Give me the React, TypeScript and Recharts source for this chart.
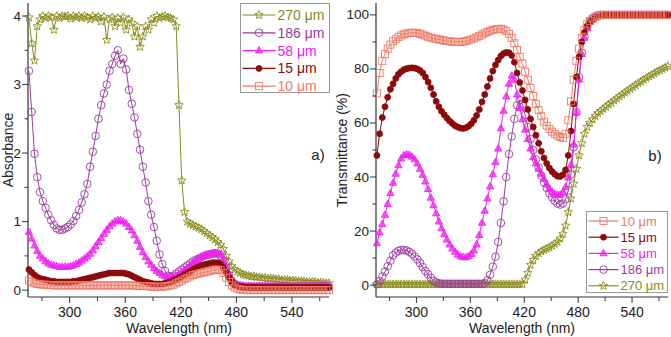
import React from 'react';
import { LineChart, Line, XAxis, YAxis } from 'recharts';

// wavelength grid (nm), shared by both panels: 256 ... 580, 3 nm apart
const wavelength = [
  256, 259, 262, 265, 268, 271, 274, 277, 280, 283,
  286, 289, 292, 295, 298, 301, 304, 307, 310, 313,
  316, 319, 322, 325, 328, 331, 334, 337, 340, 343,
  346, 349, 352, 355, 358, 361, 364, 367, 370, 373,
  376, 379, 382, 385, 388, 391, 394, 397, 400, 403,
  406, 409, 412, 415, 418, 421, 424, 427, 430, 433,
  436, 439, 442, 445, 448, 451, 454, 457, 460, 463,
  466, 469, 472, 475, 478, 481, 484, 487, 490, 493,
  496, 499, 502, 505, 508, 511, 514, 517, 520, 523,
  526, 529, 532, 535, 538, 541, 544, 547, 550, 553,
  556, 559, 562, 565, 568, 571, 574, 577, 580,
];

// panel a) absorbance
const absorb270 = [
  3.98, 3.6, 3.35, 3.85, 3.95, 4.0, 3.97, 4.0, 3.98, 3.8,
  4.0, 3.97, 4.0, 3.99, 4.0, 3.96, 4.0, 3.98, 4.0, 3.97,
  4.0, 3.98, 3.95, 4.0, 3.97, 3.99, 3.92, 3.99, 3.65, 3.95,
  3.98, 3.85, 3.97, 3.9, 3.98, 3.8, 3.95, 3.9, 3.7, 3.85,
  3.55, 3.7, 3.85, 3.8, 3.95, 3.9, 4.0, 3.97, 3.99, 4.0,
  3.98, 3.97, 3.95, 3.85, 2.7, 1.6, 1.14, 1.0, 0.97, 0.95,
  0.93, 0.91, 0.89, 0.86, 0.83, 0.8, 0.77, 0.74, 0.7, 0.66,
  0.6, 0.5, 0.42, 0.35, 0.3, 0.27, 0.25, 0.23, 0.22, 0.21,
  0.2, 0.2, 0.19, 0.19, 0.18, 0.18, 0.17, 0.17, 0.17, 0.16,
  0.16, 0.15, 0.15, 0.15, 0.14, 0.14, 0.14, 0.13, 0.13, 0.13,
  0.12, 0.12, 0.12, 0.12, 0.11, 0.11, 0.11, 0.1, 0.1,
];
const absorb186 = [
  3.2, 2.6, 1.99, 1.65, 1.43, 1.3, 1.2, 1.1, 1.02, 0.95,
  0.9, 0.88, 0.88, 0.9, 0.92, 0.96, 1.01, 1.08, 1.17, 1.28,
  1.4, 1.55, 1.8, 2.02, 2.25, 2.5, 2.7, 2.87, 3.0, 3.2,
  3.3, 3.42, 3.5, 3.3, 3.38, 3.22, 2.92, 2.72, 2.52, 2.28,
  2.05, 1.8, 1.57, 1.3, 1.1, 0.92, 0.72, 0.52, 0.38, 0.28,
  0.21, 0.19, 0.21, 0.24, 0.27, 0.3, 0.33, 0.36, 0.39, 0.42,
  0.44, 0.46, 0.48, 0.5, 0.51, 0.52, 0.53, 0.54, 0.53, 0.5,
  0.43, 0.33, 0.22, 0.14, 0.09, 0.07, 0.06, 0.05, 0.05, 0.05,
  0.05, 0.05, 0.05, 0.05, 0.05, 0.05, 0.05, 0.05, 0.05, 0.05,
  0.05, 0.05, 0.05, 0.05, 0.05, 0.05, 0.05, 0.05, 0.05, 0.05,
  0.05, 0.05, 0.05, 0.05, 0.05, 0.05, 0.05, 0.05, 0.05,
];
const absorb58 = [
  0.85, 0.75, 0.65, 0.57, 0.5, 0.46, 0.42, 0.39, 0.37, 0.36,
  0.35, 0.34, 0.34, 0.34, 0.34, 0.35, 0.36, 0.38, 0.4, 0.43,
  0.46, 0.49, 0.53, 0.58, 0.64, 0.7, 0.76, 0.82, 0.88, 0.93,
  0.97, 1.0, 1.02, 1.02, 1.0, 0.97, 0.92, 0.87, 0.8, 0.72,
  0.63, 0.55, 0.48, 0.42, 0.37, 0.32, 0.28, 0.25, 0.22, 0.2,
  0.18, 0.18, 0.19, 0.21, 0.23, 0.26, 0.29, 0.32, 0.36, 0.4,
  0.43, 0.46, 0.48, 0.5, 0.52, 0.53, 0.54, 0.54, 0.54, 0.52,
  0.44, 0.34, 0.24, 0.16, 0.1, 0.08, 0.07, 0.065, 0.06, 0.06,
  0.06, 0.06, 0.06, 0.06, 0.06, 0.06, 0.06, 0.06, 0.06, 0.06,
  0.06, 0.06, 0.06, 0.06, 0.06, 0.06, 0.06, 0.06, 0.06, 0.06,
  0.06, 0.06, 0.06, 0.06, 0.06, 0.06, 0.06, 0.06, 0.06,
];
const absorb15 = [
  0.3, 0.26, 0.22, 0.19, 0.17, 0.16, 0.15, 0.14, 0.13, 0.13,
  0.12, 0.12, 0.12, 0.12, 0.12, 0.12, 0.13, 0.13, 0.14, 0.15,
  0.16, 0.17, 0.18, 0.19, 0.2, 0.21, 0.22, 0.23, 0.24, 0.25,
  0.25, 0.25, 0.25, 0.25, 0.25, 0.24, 0.23, 0.21, 0.19, 0.17,
  0.15, 0.13, 0.12, 0.11, 0.1, 0.09, 0.09, 0.09, 0.09, 0.1,
  0.11, 0.12, 0.14, 0.16, 0.18, 0.2, 0.23, 0.25, 0.27, 0.3,
  0.32, 0.34, 0.36, 0.37, 0.38, 0.39, 0.4, 0.4, 0.4, 0.38,
  0.33, 0.26, 0.19, 0.12, 0.08, 0.06, 0.05, 0.05, 0.04, 0.04,
  0.04, 0.04, 0.04, 0.04, 0.04, 0.04, 0.04, 0.04, 0.04, 0.04,
  0.04, 0.04, 0.04, 0.04, 0.04, 0.04, 0.04, 0.04, 0.04, 0.04,
  0.04, 0.04, 0.04, 0.04, 0.04, 0.04, 0.04, 0.04, 0.04,
];
const absorb10 = [
  0.14, 0.12, 0.1, 0.09, 0.085, 0.08, 0.08, 0.075, 0.075, 0.07,
  0.07, 0.07, 0.07, 0.07, 0.07, 0.07, 0.07, 0.07, 0.07, 0.07,
  0.07, 0.07, 0.07, 0.07, 0.07, 0.07, 0.07, 0.07, 0.07, 0.07,
  0.07, 0.07, 0.07, 0.07, 0.07, 0.07, 0.07, 0.07, 0.065, 0.065,
  0.06, 0.06, 0.06, 0.055, 0.05, 0.05, 0.05, 0.05, 0.05, 0.055,
  0.06, 0.07, 0.08, 0.1, 0.12, 0.14, 0.16, 0.18, 0.2, 0.22,
  0.23, 0.24, 0.25, 0.26, 0.27, 0.28, 0.29, 0.3, 0.3, 0.29,
  0.25, 0.18, 0.12, 0.07, 0.04, 0.02, 0.01, 0.005, 0, 0,
  0, 0, 0, 0, 0, 0, 0, 0, 0, 0,
  0, 0, 0, 0, 0, 0, 0, 0, 0, 0,
  0, 0, 0, 0, 0, 0, 0, 0, 0,
];

// panel b) transmittance (%)
const trans10 = [
  71, 78.5, 83, 85.5, 87.5, 89, 90.2, 91, 91.8, 92.4,
  92.8, 93.1, 93.3, 93.4, 93.4, 93.3, 93, 92.7, 92.3, 91.9,
  91.6, 91.3, 91.1, 90.9, 90.7, 90.5, 90.3, 90.2, 90.1, 90,
  90, 90, 90.1, 90.3, 90.6, 90.9, 91.3, 91.7, 92.2, 92.7,
  93.2, 93.7, 94.1, 94.4, 94.7, 94.8, 94.9, 94.6, 94, 93,
  91.5, 89.5, 87, 84.5, 82, 79, 76, 73, 70, 67,
  64.8, 62.5, 60.5, 59, 57.8, 56.8, 56, 55.3, 54.8, 54.5,
  56, 61, 68, 76, 83, 87.5, 91.5, 94.5, 96.5, 97.8,
  98.6, 99.3, 99.7, 100, 100, 100, 100, 100, 100, 100,
  100, 100, 100, 100, 100, 100, 100, 100, 100, 100,
  100, 100, 100, 100, 100, 100, 100, 100, 100,
];
const trans15 = [
  48, 56, 62, 66, 69.5, 72.5, 74.5, 76.5, 78, 79,
  79.7, 80.1, 80.3, 80.4, 80.3, 80, 79.4, 78.5, 77, 75.2,
  73, 70.5, 68, 66, 64.3, 63, 61.8, 60.7, 59.8, 59,
  58.5, 58.1, 58, 58.2, 58.8, 59.7, 61, 62.8, 65, 67.8,
  70.5, 73.5, 76.5, 79.2, 81.5, 83.3, 84.8, 85.7, 86.1, 86,
  85, 82.5, 78.5, 75, 72, 68.5, 65, 61.5, 58.5, 55.5,
  52.5, 49.5, 47, 45, 43.3, 42, 41, 40.3, 40.2, 40.8,
  42.6, 48, 57, 67, 77, 84.5, 90, 93.5, 95.8, 97.3,
  98.3, 99, 99.5, 99.8, 100, 100, 100, 100, 100, 100,
  100, 100, 100, 100, 100, 100, 100, 100, 100, 100,
  100, 100, 100, 100, 100, 100, 100, 100, 100,
];
const trans58 = [
  15.5, 19.5, 22.5, 26, 30, 34, 37.8, 41.2, 44.3, 46.8,
  48, 48.4, 48.2, 47.5, 46.5, 45, 43, 40.8, 38.3, 35.5,
  32.3, 29.5, 26.5, 23.5, 21, 18.8, 16.8, 15, 13.5, 12.3,
  11.3, 10.6, 10.3, 10.3, 10.7, 11.5, 12.8, 15, 18.5, 23,
  27.5, 32, 36.5, 41, 45.5, 50.5, 58, 64.5, 69.8, 74.5,
  77.5, 76, 70.5, 65.5, 61.3, 57.5, 54, 50.5, 47.3, 45,
  43, 41.2, 39.2, 37.2, 35.6, 34.5, 33.8, 33.4, 33.4, 34.2,
  36.3, 39.8, 44.5, 52, 64, 76, 85.5, 91.5, 95, 97.3,
  98.6, 99.4, 99.8, 100, 100, 100, 100, 100, 100, 100,
  100, 100, 100, 100, 100, 100, 100, 100, 100, 100,
  100, 100, 100, 100, 100, 100, 100, 100, 100,
];
const trans186 = [
  0.3, 1.5, 3.2, 5, 7, 9, 11, 12, 12.7, 13,
  13, 12.8, 12.3, 11.6, 10.6, 9.5, 8.2, 6.7, 5.2, 4,
  2.7, 1.6, 1, 0.7, 0.5, 0.5, 0.5, 0.5, 0.5, 0.5,
  0.5, 0.5, 0.5, 0.5, 0.5, 0.5, 0.5, 0.5, 0.5, 0.5,
  0.7, 1.8, 3.8, 6.8, 10.5, 16, 23, 31, 40, 48.5,
  55, 61.5, 66.5, 68.5, 67, 63, 58.5, 54, 50, 46.5,
  43.5, 40.5, 38, 36, 34, 32.5, 31.2, 30.2, 29.8, 30.2,
  31.8, 35, 41, 51, 64, 77, 86, 92, 95.5, 97.5,
  98.6, 99.4, 99.8, 100, 100, 100, 100, 100, 100, 100,
  100, 100, 100, 100, 100, 100, 100, 100, 100, 100,
  100, 100, 100, 100, 100, 100, 100, 100, 100,
];
const trans270 = [
  0.3, 0.3, 0.3, 0.3, 0.3, 0.3, 0.3, 0.3, 0.3, 0.3,
  0.3, 0.3, 0.3, 0.3, 0.3, 0.3, 0.3, 0.3, 0.3, 0.3,
  0.3, 0.3, 0.3, 0.3, 0.3, 0.3, 0.3, 0.3, 0.3, 0.3,
  0.3, 0.3, 0.3, 0.3, 0.3, 0.3, 0.3, 0.3, 0.3, 0.3,
  0.3, 0.3, 0.3, 0.3, 0.3, 0.3, 0.3, 0.3, 0.3, 0.3,
  0.3, 0.3, 0.3, 0.3, 0.4, 2, 4.5, 7.5, 9.3, 10.8,
  11.8, 12.5, 13, 13.5, 14, 14.6, 15.3, 16, 17.2, 19,
  22, 27, 32, 37.5, 43, 48, 52.5, 56, 58.5, 60,
  61.3, 62.6, 63.6, 64.4, 65.2, 66, 66.8, 67.5, 68.3, 69,
  69.8, 70.5, 71.2, 71.9, 72.6, 73.3, 74, 74.7, 75.3, 76,
  76.6, 77.2, 77.8, 78.4, 79, 79.5, 80, 80.5, 81,
];

const xTicks = [270, 300, 330, 360, 390, 420, 450, 480, 510, 540, 570];
const absTicks = [0, 0.5, 1, 1.5, 2, 2.5, 3, 3.5, 4];
const transTicks = [0, 10, 20, 30, 40, 50, 60, 70, 80, 90, 100];

const FONT = 'Liberation Sans, Arial, Helvetica, sans-serif';
const AXIS = '#333';
const TXT = '#222';

const series = [
  { key: 's270', label: '270 \u03bcm', color: '#8a8a1a', shape: 'star' },
  { key: 's186', label: '186 \u03bcm', color: '#9b3ba0', shape: 'circle' },
  { key: 's58', label: '58 \u03bcm', color: '#f020f0', shape: 'triangle' },
  { key: 's15', label: '15 \u03bcm', color: '#8b0a0a', shape: 'ball' },
  { key: 's10', label: '10 \u03bcm', color: '#f07a66', shape: 'square' },
];

const absData = wavelength.map((w, i) => ({
  w, s270: absorb270[i], s186: absorb186[i], s58: absorb58[i], s15: absorb15[i], s10: absorb10[i],
}));
const transData = wavelength.map((w, i) => ({
  w, s270: trans270[i], s186: trans186[i], s58: trans58[i], s15: trans15[i], s10: trans10[i],
}));

function starPath(cx: number, cy: number, r: number) {
  const pts: string[] = [];
  for (let k = 0; k < 10; k++) {
    const rr = k % 2 === 0 ? r : r * 0.45;
    const a = -Math.PI / 2 + (k * Math.PI) / 5;
    pts.push(`${cx + rr * Math.cos(a)},${cy + rr * Math.sin(a)}`);
  }
  return 'M' + pts.join('L') + 'Z';
}

const Marker = ({ shape, color, x, y }: { shape: string; color: string; x: number; y: number }) => {
  switch (shape) {
    case 'square':
      return <rect x={x - 3.5} y={y - 3.5} width={7} height={7} fill="none" stroke={color} strokeWidth={0.9} />;
    case 'ball':
      return <circle cx={x} cy={y} r={3} fill={color} stroke={color} strokeWidth={0.8} />;
    case 'triangle':
      return (
        <path
          d={`M${x},${y - 4}L${x + 3.6},${y + 2.4}L${x - 3.6},${y + 2.4}Z`}
          fill={color}
          fillOpacity={0.7}
          stroke={color}
          strokeWidth={0.9}
        />
      );
    case 'circle':
      return <circle cx={x} cy={y} r={3.8} fill="none" stroke={color} strokeWidth={0.9} />;
    default:
      return <path d={starPath(x, y, 4.4)} fill="none" stroke={color} strokeWidth={0.9} />;
  }
};

const makeDot = (shape: string, color: string) => (p: any) => {
  const { cx, cy, index } = p;
  if (cx == null || cy == null || Number.isNaN(cy)) return <g key={index} />;
  return (
    <g key={index}>
      <Marker shape={shape} color={color} x={cx} y={cy} />
    </g>
  );
};

const XTick = (p: any) => {
  const { x, y, payload } = p;
  const v = payload.value;
  const major = v % 60 === 0;
  return (
    <g>
      <line x1={x} y1={y} x2={x} y2={y + (major ? 6 : 4)} stroke={AXIS} strokeWidth={1} />
      {major && (
        <text x={x} y={y + 15} textAnchor="middle" dominantBaseline="central" fontSize={14} fontFamily={FONT} fill={TXT}>
          {v}
        </text>
      )}
    </g>
  );
};

const makeYTick = (isMajor: (v: number) => boolean) => (p: any) => {
  const { x, y, payload } = p;
  const v = payload.value;
  const major = isMajor(v);
  return (
    <g>
      <line x1={x} y1={y} x2={x - (major ? 6 : 3.5)} y2={y} stroke={AXIS} strokeWidth={1} />
      {major && (
        <text x={x - 7} y={y} textAnchor="end" dominantBaseline="central" fontSize={13.5} fontFamily={FONT} fill={TXT}>
          {v}
        </text>
      )}
    </g>
  );
};

const axisLine = { stroke: AXIS, strokeWidth: 1.2 };

const Panel = ({
  data, width, yWidth, marginRight, yDomain, yTicks, yMajor, order,
}: {
  data: any[]; width: number; yWidth: number; marginRight: number;
  yDomain: [number, number]; yTicks: number[]; yMajor: (v: number) => boolean; order: string[];
}) => (
  <LineChart width={width} height={337} data={data} margin={{ top: 3, right: marginRight, bottom: 0, left: 0 }}>
    <XAxis
      dataKey="w" type="number" domain={[255, 580]} ticks={xTicks} interval={0}
      height={40} tickSize={0} tickMargin={0} tickLine={false} tick={XTick} axisLine={axisLine}
    />
    <XAxis xAxisId="top" orientation="top" type="number" domain={[255, 580]} height={0} tick={false} tickLine={false} axisLine={axisLine} />
    <YAxis
      type="number" domain={yDomain} ticks={yTicks} interval={0} width={yWidth}
      tickSize={0} tickMargin={0} tickLine={false} tick={makeYTick(yMajor)} axisLine={axisLine}
    />
    <YAxis yAxisId="right" orientation="right" type="number" domain={[0, 1]} width={0} tick={false} tickLine={false} axisLine={axisLine} />
    {order.map((k) => {
      const s = series.find((q) => q.key === k)!;
      return (
        <Line
          key={k} dataKey={k} type="linear" stroke={s.color} strokeWidth={1}
          dot={makeDot(s.shape, s.color)} activeDot={false} isAnimationActive={false}
        />
      );
    })}
  </LineChart>
);

const LegendBox = ({
  x, y, w, h, rowY, rowH, lineW, fontSize, keys,
}: {
  x: number; y: number; w: number; h: number; rowY: number; rowH: number; lineW: number; fontSize: number; keys: string[];
}) => (
  <g>
    <rect x={x} y={y} width={w} height={h} fill="#fff" stroke="#999" strokeWidth={1} />
    {keys.map((k, i) => {
      const s = series.find((q) => q.key === k)!;
      const cy = rowY + i * rowH;
      const lx = x + 2;
      return (
        <g key={k}>
          <line x1={lx} y1={cy} x2={lx + lineW} y2={cy} stroke={s.color} strokeWidth={1.2} />
          <Marker shape={s.shape} color={s.color} x={lx + lineW / 2} y={cy} />
          <text x={lx + lineW + 2} y={cy} dominantBaseline="central" fontSize={fontSize} fontFamily={FONT} fill={s.color}>
            {s.label}
          </text>
        </g>
      );
    })}
  </g>
);

export default function App() {
  const drawOrder = ['s270', 's186', 's58', 's15', 's10'];
  return (
    <div style={{ position: 'absolute', left: 0, top: 0, width: 671, height: 337, background: '#fff', overflow: 'hidden' }}>
      <div style={{ position: 'absolute', left: 0, top: 0 }}>
        <Panel
          data={absData} width={340} yWidth={28} marginRight={11}
          yDomain={[-0.1, 4.19]} yTicks={absTicks} yMajor={(v) => Number.isInteger(v)} order={drawOrder}
        />
      </div>
      <div style={{ position: 'absolute', left: 340, top: 0 }}>
        <Panel
          data={transData} width={331} yWidth={36} marginRight={3}
          yDomain={[-4.4, 104.4]} yTicks={transTicks} yMajor={(v) => v % 20 === 0} order={drawOrder}
        />
      </div>
      <svg width={671} height={337} style={{ position: 'absolute', left: 0, top: 0, pointerEvents: 'none' }}>
        <text x={8} y={150} transform="rotate(-90 8 150)" textAnchor="middle" dominantBaseline="central" fontSize={14} fontFamily={FONT} fill={TXT}>
          Absorbance
        </text>
        <text x={342} y={150} transform="rotate(-90 342 150)" textAnchor="middle" dominantBaseline="central" fontSize={14} fontFamily={FONT} fill={TXT}>
          Transmittance (%)
        </text>
        <text x={179} y={328} textAnchor="middle" dominantBaseline="central" fontSize={14} fontFamily={FONT} fill={TXT}>
          Wavelength (nm)
        </text>
        <text x={522} y={328} textAnchor="middle" dominantBaseline="central" fontSize={14} fontFamily={FONT} fill={TXT}>
          Wavelength (nm)
        </text>
        <text x={318} y={154} textAnchor="middle" dominantBaseline="central" fontSize={15} fontFamily={FONT} fill={TXT}>
          a)
        </text>
        <text x={655} y={155} textAnchor="middle" dominantBaseline="central" fontSize={15} fontFamily={FONT} fill={TXT}>
          b)
        </text>
        <LegendBox x={240.5} y={3.5} w={89} h={89} rowY={15} rowH={17.8} lineW={33} fontSize={14} keys={['s270', 's186', 's58', 's15', 's10']} />
        <LegendBox x={586.5} y={211.5} w={81} h={81} rowY={221} rowH={16.2} lineW={30} fontSize={13} keys={['s10', 's15', 's58', 's186', 's270']} />
      </svg>
    </div>
  );
}
